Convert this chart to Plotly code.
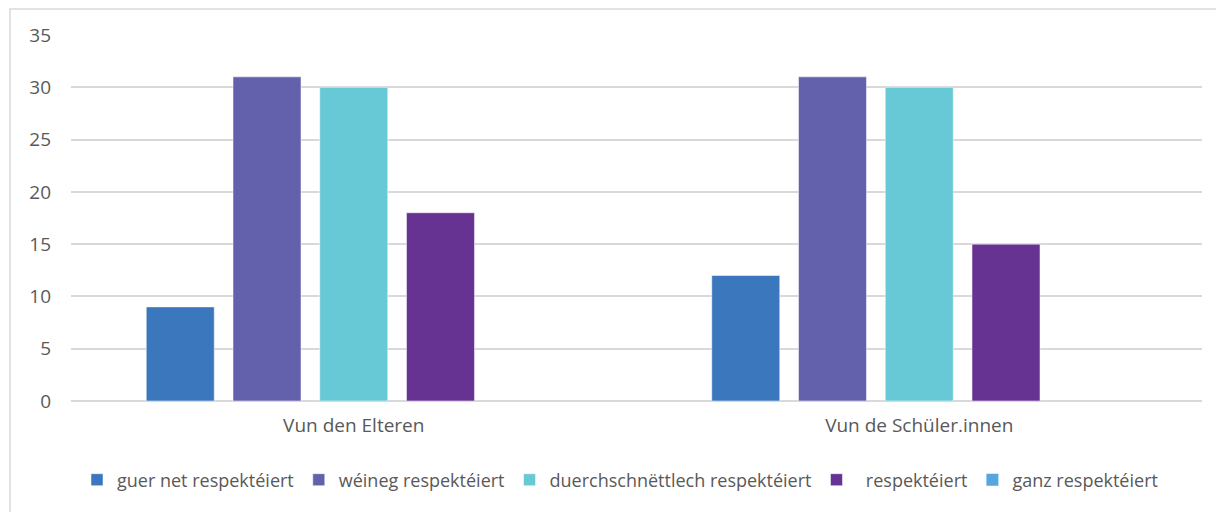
import plotly.graph_objects as go

categories = ["Vun den Elteren", "Vun de Schüler.innen"]
series_names = ["guer net respektéiert", "wéineg respektéiert", "duerchschnëttlech respektéiert",
                "\u00a0\u00a0respektéiert", "ganz respektéiert"]
values_guer_net = [9, 12]
values_weineg = [31, 31]
values_duerchschnett = [30, 30]
values_respekteiert = [18, 15]
values_ganz = [0, 0]
colors = ["#3B77BC", "#6461AC", "#67C9D5", "#673393", "#55A6DE"]
y_ticks = [0, 5, 10, 15, 20, 25, 30, 35]

series_values = [values_guer_net, values_weineg, values_duerchschnett, values_respekteiert, values_ganz]

# page has an 8px body margin; compensate so plot lands where the reference has it
OFF = 8
W, H = 1224, 512
ml, mr, mt, mb = 71 - OFF, 22 + OFF, 35 - OFF, 111 + OFF
pw, ph = W - ml - mr, H - mt - mb

def px_x(x):  # viewport pixel -> paper x
    return (x - OFF - ml) / pw

def px_y(y):  # viewport pixel -> paper y
    return (mt + ph - (y - OFF)) / ph

fig = go.Figure()
for name, vals, col in zip(series_names, series_values, colors):
    has_height = any(v > 0 for v in vals)
    fig.add_trace(go.Bar(
        x=categories, y=vals, name=name,
        marker=dict(color=col, line=dict(color="rgba(255,255,255,0.5)", width=1 if has_height else 0)),
    ))

font_family = "'Open Sans', Lato, sans-serif"
fig.update_layout(
    width=W, height=H,
    margin=dict(l=ml, r=mr, t=mt, b=mb, autoexpand=False),
    paper_bgcolor="white", plot_bgcolor="white",
    barmode="group", bargap=0.233, bargroupgap=0.216,
    font=dict(family=font_family, size=19, color="#595959"),
    showlegend=True,
    legend=dict(orientation="h", x=px_x(620), xanchor="center", y=px_y(480), yanchor="middle",
                font=dict(size=18, color="#595959"), itemwidth=30, traceorder="normal"),
    xaxis=dict(showgrid=False, showline=False, ticks="", ticklabelstandoff=11,
               tickfont=dict(size=19, color="#595959")),
    yaxis=dict(range=[0, 35], tickvals=y_ticks, showgrid=True, gridcolor="#D9D9D9", gridwidth=1.5,
               zeroline=True, zerolinecolor="#D9D9D9", zerolinewidth=1.5, showline=False,
               ticks="", ticklabelstandoff=19, tickfont=dict(size=19, color="#595959")),
    shapes=[dict(type="rect", xref="paper", yref="paper",
                 x0=px_x(10), x1=px_x(1260),
                 y0=px_y(560), y1=px_y(9),
                 line=dict(color="#D9D9D9", width=1.5), fillcolor="rgba(0,0,0,0)", layer="below")],
)

fig.write_html("out.html")
